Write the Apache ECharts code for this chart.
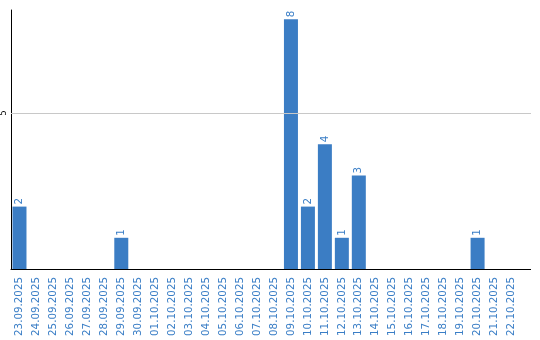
<!DOCTYPE html>
<html>
<head>
<meta charset="utf-8">
<script src="https://cdn.jsdelivr.net/npm/echarts@6/dist/echarts.min.js"></script>
<style>html,body{margin:0;padding:0;background:#fff}#c{width:540px;height:340px}</style>
</head>
<body>
<div id="c"></div>
<script>
const categories = ["23.09.2025","24.09.2025","25.09.2025","26.09.2025","27.09.2025","28.09.2025","29.09.2025","30.09.2025","01.10.2025","02.10.2025","03.10.2025","04.10.2025","05.10.2025","06.10.2025","07.10.2025","08.10.2025","09.10.2025","10.10.2025","11.10.2025","12.10.2025","13.10.2025","14.10.2025","15.10.2025","16.10.2025","17.10.2025","18.10.2025","19.10.2025","20.10.2025","21.10.2025","22.10.2025"];
const values = [2,0,0,0,0,0,1,0,0,0,0,0,0,0,0,0,8,2,4,1,3,0,0,0,0,0,0,1,0,0];
const yTicks = [5];

const chart = echarts.init(document.getElementById('c'), null, {renderer:'canvas'});
chart.setOption({
  animation:false,
  grid:{left:10,right:20,top:10,bottom:71},
  xAxis:{
    type:'category', data:categories,
    axisLine:{lineStyle:{color:'#000',width:1}},
    axisTick:{show:false},
    axisLabel:{rotate:90,interval:0,margin:8,fontFamily:'DejaVu Sans',fontSize:10.3,color:'#3a7ec6'}
  },
  yAxis:{
    type:'value', min:0, max:8.3, interval:5,
    axisLine:{show:true,lineStyle:{color:'#000',width:1}},
    axisTick:{show:false},
    splitLine:{show:false},
    axisLabel:{rotate:90,margin:3,fontFamily:'DejaVu Sans',fontSize:8,color:'#000',
      formatter:v=>yTicks.indexOf(v)>=0?String(v):''}
  },
  series:[{
    type:'bar', data:values.map(v=>v===0?null:v), barWidth:14,
    itemStyle:{color:'#3b7dc4'},
    label:{show:true,position:'top',rotate:90,align:'left',verticalAlign:'middle',distance:2,
      fontFamily:'DejaVu Sans',fontSize:10.3,color:'#3a7ec6'},
    markLine:{silent:true,symbol:'none',label:{show:false},
      lineStyle:{color:'#c8c8c8',type:'solid',width:1},
      data:yTicks.map(t=>({yAxis:t}))}
  }]
});
// extend axis line and gridline to the right edge as in the reference
const y0 = Math.round(chart.convertToPixel({yAxisIndex:0},0)) + 0.5;
const y5 = Math.round(chart.convertToPixel({yAxisIndex:0},yTicks[0])) + 0.5;
chart.setOption({graphic:[
  {type:'line',shape:{x1:519,y1:y0,x2:531,y2:y0},style:{stroke:'#000',lineWidth:1}},
  {type:'line',shape:{x1:519,y1:y5,x2:531,y2:y5},style:{stroke:'#c8c8c8',lineWidth:1}}
]});
</script>
</body>
</html>
